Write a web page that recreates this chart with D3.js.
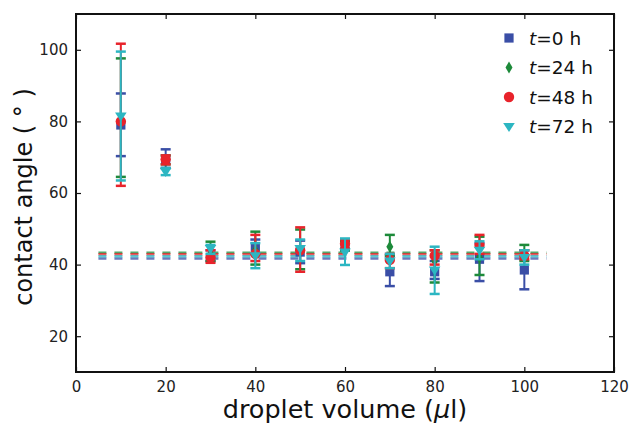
<!DOCTYPE html>
<html>
<head>
<meta charset="utf-8">
<script src="https://cdn.jsdelivr.net/npm/d3@7"></script>
<style>
  body { margin: 0; background: #fff; }
  svg text { font-family: "DejaVu Sans", sans-serif; }
</style>
</head>
<body>
<svg id="chart" width="631" height="426"></svg>
<script>
// droplet volumes (µl)
var volumes = [10, 20, 30, 40, 50, 60, 70, 80, 90, 100];

// contact angle means and error ranges per time point
var t0Mean  = [79, 69.5, 42, 45, 43.5, 45, 38, 38, 41.5, 38.5];
var t0Low   = [70.3, 67, 41, 43, 40.4, 44, 34, 36, 35.4, 33.1];
var t0High  = [87.8, 72.2, 44, 47, 46.7, 46.5, 42.5, 41, 46, 44];

var t24Mean = [80, 69, 43, 44, 44, 45, 45, 41, 42, 43];
var t24Low  = [64.5, 68, 41, 40, 38.7, 44, 42.5, 35, 37.1, 41];
var t24High = [97.6, 70.5, 46.4, 49.2, 49.8, 46.5, 48.3, 44, 47.8, 45.5];

var t48Mean = [80, 69.4, 42, 43, 44, 45.8, 41.3, 42.5, 45.5, 42.5];
var t48Low  = [62, 68, 40.5, 41, 38, 44.5, 39, 40, 43, 41.5];
var t48High = [101.7, 70.5, 44, 48.3, 50.4, 47, 43, 44, 48.3, 44];

var t72Mean = [81.5, 66, 44.5, 42.5, 44.5, 43.5, 41, 38.5, 44, 42];
var t72Low  = [63.5, 65, 43, 39, 41, 39.9, 39, 31.8, 41.5, 40];
var t72High = [99.5, 67, 45.5, 46, 47, 47.3, 43, 45, 46.5, 44];

// average lines (dashed)
var avgLines = [41.7, 43.3, 42.9, 42.3];

var seriesNames = ["=0 h", "=24 h", "=48 h", "=72 h"];
var colors = ["#3a4ea6", "#1d8a3a", "#e8232b", "#2cb6c2"];
var symbols = [d3.symbolSquare, "diamond", d3.symbolCircle, "triDown"];

var xTicks = [0, 20, 40, 60, 80, 100, 120];
var yTicks = [20, 40, 60, 80, 100];

var series = [
  { mean: t0Mean, low: t0Low, high: t0High },
  { mean: t24Mean, low: t24Low, high: t24High },
  { mean: t48Mean, low: t48Low, high: t48High },
  { mean: t72Mean, low: t72Low, high: t72High }
];

var margin = { left: 76, right: 17, top: 14, bottom: 54 };
var svg = d3.select("#chart");
var W = 631, H = 426;

var x = d3.scaleLinear().domain([0, 120]).range([margin.left, W - margin.right]);
var y = d3.scaleLinear().domain([10, 110]).range([H - margin.bottom, margin.top]);

function markerPath(sym, size) {
  if (sym === "diamond") {
    var w = size * 0.35, h = size * 0.6;
    return "M0," + (-h) + "L" + w + ",0L0," + h + "L" + (-w) + ",0Z";
  }
  if (sym === "triDown") {
    var s = size * 0.58;
    return "M" + (-s) + "," + (-s * 0.6) + "L" + s + "," + (-s * 0.6) + "L0," + (s * 0.95) + "Z";
  }
  return d3.symbol().type(sym).size(size * size * 0.85)();
}

// dashed average lines
svg.selectAll(".avg")
  .data(avgLines)
  .enter().append("line")
  .attr("x1", x(5)).attr("x2", x(105))
  .attr("y1", d => y(d)).attr("y2", d => y(d))
  .attr("stroke", (d, i) => colors[i])
  .attr("stroke-width", 2.5)
  .attr("stroke-dasharray", "8,8")
  .attr("opacity", 0.75);

// error bars + markers
series.forEach(function(s, si) {
  var g = svg.append("g");
  var pts = volumes.map((v, i) => ({ v: v, m: s.mean[i], lo: s.low[i], hi: s.high[i] }));
  g.selectAll(".eb").data(pts).enter().append("line")
    .attr("x1", d => x(d.v)).attr("x2", d => x(d.v))
    .attr("y1", d => y(d.lo)).attr("y2", d => y(d.hi))
    .attr("stroke", colors[si]).attr("stroke-width", 2);
  ["lo", "hi"].forEach(function(k) {
    g.selectAll(".cap" + k).data(pts).enter().append("line")
      .attr("x1", d => x(d.v) - 5).attr("x2", d => x(d.v) + 5)
      .attr("y1", d => y(d[k])).attr("y2", d => y(d[k]))
      .attr("stroke", colors[si]).attr("stroke-width", 2.5);
  });
  g.selectAll(".mk").data(pts).enter().append("path")
    .attr("d", markerPath(symbols[si], 10))
    .attr("transform", d => "translate(" + x(d.v) + "," + y(d.m) + ")")
    .attr("fill", colors[si]);
});

// frame
svg.append("rect")
  .attr("x", margin.left).attr("y", margin.top)
  .attr("width", W - margin.right - margin.left)
  .attr("height", H - margin.bottom - margin.top)
  .attr("fill", "none").attr("stroke", "#111").attr("stroke-width", 2);

// axes with inward ticks
var xAxis = svg.append("g").attr("transform", "translate(0," + y(10) + ")")
  .call(d3.axisBottom(x).tickValues(xTicks).tickSize(-5).tickPadding(9));
var xTop = svg.append("g").attr("transform", "translate(0," + y(110) + ")")
  .call(d3.axisTop(x).tickValues(xTicks).tickSize(-5).tickFormat(""));
var yAxis = svg.append("g").attr("transform", "translate(" + x(0) + ",0)")
  .call(d3.axisLeft(y).tickValues(yTicks).tickSize(-5).tickPadding(8));
var yRight = svg.append("g").attr("transform", "translate(" + x(120) + ",0)")
  .call(d3.axisRight(y).tickValues(yTicks).tickSize(-5).tickFormat(""));

[xAxis, xTop, yAxis, yRight].forEach(function(a) {
  a.select(".domain").remove();
  a.selectAll(".tick line").attr("stroke", "#111").attr("stroke-width", 1.2);
  a.selectAll(".tick text").attr("font-size", 15).attr("fill", "#222")
    .style("font-family", "DejaVu Sans, sans-serif");
});

// axis labels
var xl = svg.append("text")
  .attr("x", (x(0) + x(120)) / 2).attr("y", 418)
  .attr("text-anchor", "middle").attr("font-size", 25.5).attr("fill", "#111");
xl.append("tspan").text("droplet volume (");
xl.append("tspan").attr("font-style", "italic").text("\u03bc");
xl.append("tspan").text("l)");

svg.append("text")
  .attr("transform", "translate(32,197) rotate(-90)")
  .attr("text-anchor", "middle").attr("font-size", 24).attr("fill", "#111")
  .text("contact angle ( \u00b0 )");

// legend
var leg = svg.append("g");
seriesNames.forEach(function(name, i) {
  var ly = 38 + i * 29.5;
  leg.append("path")
    .attr("d", markerPath(symbols[i], 10))
    .attr("transform", "translate(509," + ly + ")")
    .attr("fill", colors[i]);
  var t = leg.append("text").attr("x", 529).attr("y", ly + 6.5)
    .attr("font-size", 18.5).attr("fill", "#111");
  t.append("tspan").attr("font-style", "italic").text("t");
  t.append("tspan").text(name);
});
</script>
</body>
</html>
